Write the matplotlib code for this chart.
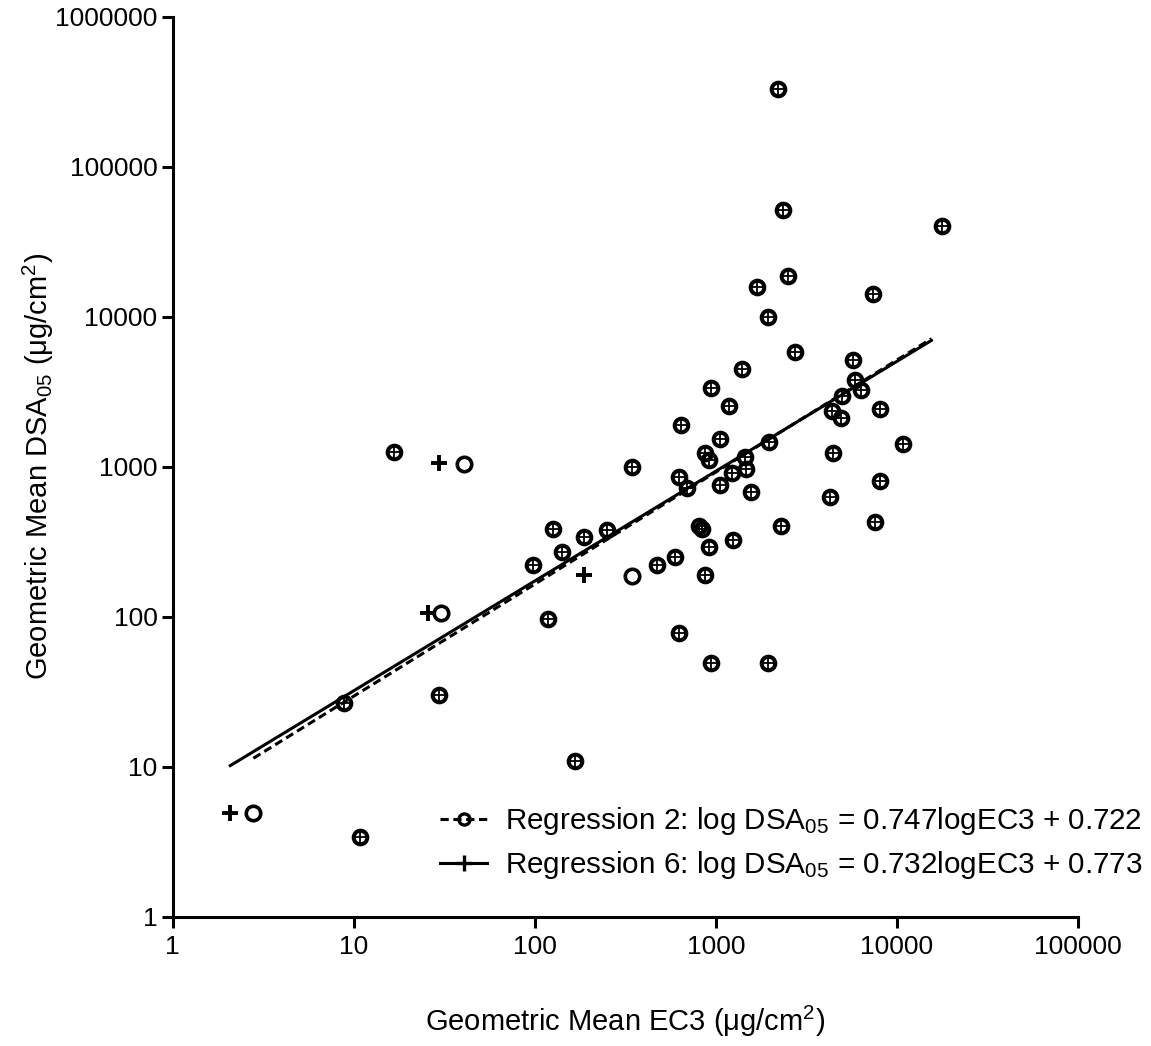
import numpy as np
import matplotlib.pyplot as plt
from matplotlib.lines import Line2D
from matplotlib.ticker import FixedLocator, FuncFormatter, NullLocator

# Compounds that appear in both regression datasets (drawn as circle + plus)
shared_ec3 = [2200, 2340, 17800, 2500, 1680, 7390, 1940, 2730, 5730, 1390,
              935, 1180, 638, 1060, 1960, 5880, 6340, 4980, 4380, 4910,
              8080, 10800, 4440, 8080, 4270, 7590, 2290, 867, 913, 1440,
              1460, 1220, 342, 622, 689, 1050, 1560, 803, 834, 1240,
              913, 591, 470, 867, 622, 935, 1940, 252, 16.6, 126,
              142, 188, 98, 118, 8.8, 29.5, 167, 10.8]
shared_dsa = [329000, 51300, 40100, 18600, 15700, 14100, 9930, 5800, 5130, 4470,
              3340, 2530, 1890, 1530, 1460, 3770, 3240, 2950, 2340, 2100,
              2420, 1410, 1230, 800, 626, 427, 401, 1230, 1110, 1160,
              962, 905, 992, 851, 719, 753, 676, 401, 383, 324,
              290, 249, 220, 189, 77.6, 49, 49, 377, 1250, 383,
              269, 339, 220, 96, 26.5, 30, 10.9, 3.4]

# Points only in the regression 2 dataset (open circles)
reg2_only_ec3 = [40.6, 30.3, 2.79, 342]
reg2_only_dsa = [1040, 105, 4.9, 186]

# Points only in the regression 6 dataset (plus signs)
reg6_only_ec3 = [29.5, 25.6, 2.08, 188]
reg6_only_dsa = [1055, 105, 4.9, 189]

# Regression fits: log DSA05 = slope * log EC3 + intercept
reg2_slope, reg2_intercept = 0.747, 0.722
reg6_slope, reg6_intercept = 0.732, 0.773
fit_ec3_max = 15500

decade_ticks_x = [1, 10, 100, 1000, 10000, 100000]
decade_ticks_y = [1, 10, 100, 1000, 10000, 100000, 1000000]


def create_ec3_dsa_chart():
    plt.rcParams['font.family'] = ['Liberation Sans', 'DejaVu Sans']
    plt.rcParams['mathtext.fontset'] = 'custom'
    plt.rcParams['mathtext.rm'] = 'Liberation Sans'
    plt.rcParams['mathtext.it'] = 'Liberation Sans:italic'
    plt.rcParams['mathtext.bf'] = 'Liberation Sans:bold'

    W, H = 1151, 1046
    fig = plt.figure(figsize=(W / 100, H / 100), dpi=100)
    ax = fig.add_axes([172.7 / W, 1 - 916.5 / H, 905.3 / W, 900 / H])

    # Regression lines
    shared = np.array(shared_ec3)
    x2 = np.array(reg2_only_ec3 + shared_ec3)
    x6 = np.array(reg6_only_ec3 + shared_ec3)
    xs2 = np.logspace(np.log10(x2.min()), np.log10(fit_ec3_max), 50)
    xs6 = np.logspace(np.log10(x6.min()), np.log10(fit_ec3_max), 50)
    ax.plot(xs2, 10 ** (reg2_slope * np.log10(xs2) + reg2_intercept),
            color='black', lw=2.2, linestyle=(0, (2.7, 1.5)), zorder=2)
    ax.plot(xs6, 10 ** (reg6_slope * np.log10(xs6) + reg6_intercept),
            color='black', lw=2.2, zorder=2)

    # Points in both datasets
    ax.plot(shared, shared_dsa, linestyle='none', marker='o', markersize=9.8,
            markerfacecolor='none', markeredgecolor='black', markeredgewidth=2.9, zorder=3)
    ax.plot(shared, shared_dsa, linestyle='none', marker='+', markersize=8,
            markeredgecolor='black', markeredgewidth=1.3, zorder=3)

    # Points only in one dataset
    ax.plot(reg2_only_ec3, reg2_only_dsa, linestyle='none', marker='o', markersize=10.4,
            markerfacecolor='none', markeredgecolor='black', markeredgewidth=2.6, zorder=3)
    ax.plot(reg6_only_ec3, reg6_only_dsa, linestyle='none', marker='+', markersize=11.5,
            markeredgecolor='black', markeredgewidth=2.8, zorder=3)

    # Axes: log-log, only left and bottom spines
    ax.set_xscale('log')
    ax.set_yscale('log')
    ax.set_xlim(1, 100000)
    ax.set_ylim(1, 1000000)
    for side in ['top', 'right']:
        ax.spines[side].set_visible(False)
    for side in ['left', 'bottom']:
        ax.spines[side].set_linewidth(2.2)

    ax.xaxis.set_major_locator(FixedLocator(decade_ticks_x))
    ax.yaxis.set_major_locator(FixedLocator(decade_ticks_y))
    ax.xaxis.set_minor_locator(NullLocator())
    ax.yaxis.set_minor_locator(NullLocator())
    fmt = FuncFormatter(lambda v, _: f'{v:.0f}')
    ax.xaxis.set_major_formatter(fmt)
    ax.yaxis.set_major_formatter(fmt)
    ax.tick_params(axis='both', direction='out', length=8, width=2.2, labelsize=19)
    ax.tick_params(axis='x', pad=5)
    ax.tick_params(axis='y', pad=3)

    ax.set_xlabel('Geometric Mean EC3 (μg/cm$^{2}$)', fontsize=21)
    ax.set_ylabel('Geometric Mean DSA$_{05}$ (μg/cm$^{2}$)', fontsize=21)
    ax.xaxis.set_label_coords(0.5, -0.097)
    ax.yaxis.set_label_coords(-0.129, 0.5)

    # Legend
    handles = [
        Line2D([], [], color='black', lw=2.2, linestyle=(0, (2.7, 1.5)), marker='o',
               markersize=8, markerfacecolor='none', markeredgewidth=2.4),
        Line2D([], [], color='black', lw=2.2, marker='+', markersize=11, markeredgewidth=2.4),
    ]
    labels = [
        f'Regression 2: log DSA$_{{05}}$ = {reg2_slope}logEC3 + {reg2_intercept}',
        f'Regression 6: log DSA$_{{05}}$ = {reg6_slope}logEC3 + {reg6_intercept}',
    ]
    ax.legend(handles, labels, loc='upper left', bbox_to_anchor=(440 / W, 1 - 805 / H),
              bbox_transform=fig.transFigure, frameon=False, borderpad=0, borderaxespad=0,
              handlelength=1.6, handletextpad=0.6, labelspacing=0.42, fontsize=21.3)

    fig.savefig('out.png', dpi=100)
    plt.close(fig)


if __name__ == '__main__':
    create_ec3_dsa_chart()
